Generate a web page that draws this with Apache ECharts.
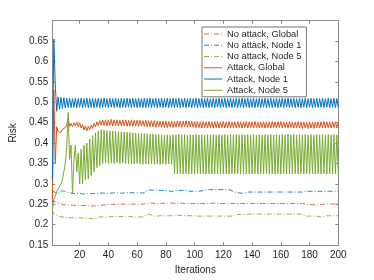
<!DOCTYPE html>
<html>
<head>
<meta charset="utf-8">
<script src="https://cdn.jsdelivr.net/npm/echarts@6.0.0/dist/echarts.min.js"></script>
<style>
html,body{margin:0;padding:0;background:#fff;}
#chart{width:374px;height:280px;}
</style>
</head>
<body>
<div id="chart"></div>
<script>
// ---------- data ----------
var seriesNames = ['No attack, Global', 'No attack, Node 1', 'No attack, Node 5', 'Attack, Global', 'Attack, Node 1', 'Attack, Node 5'];
var xTicks = [20, 40, 60, 80, 100, 120, 140, 160, 180, 200];
var yTicks = [0.15, 0.2, 0.25, 0.3, 0.35, 0.4, 0.45, 0.5, 0.55, 0.6, 0.65];

var noAttackGlobal = [
0.262,0.258,0.256,0.255,0.253,0.252,0.251,0.250,0.249,0.249,
0.248,0.248,0.248,0.247,0.248,0.248,0.247,0.247,0.248,0.248,
0.247,0.247,0.247,0.248,0.247,0.247,0.246,0.246,0.246,0.246,
0.246,0.247,0.247,0.247,0.248,0.248,0.248,0.249,0.249,0.249,
0.249,0.249,0.250,0.250,0.250,0.250,0.250,0.250,0.251,0.250,
0.250,0.251,0.251,0.250,0.250,0.251,0.251,0.251,0.250,0.251,
0.251,0.251,0.250,0.251,0.251,0.251,0.252,0.253,0.253,0.253,
0.253,0.253,0.252,0.253,0.253,0.253,0.252,0.253,0.253,0.253,
0.253,0.252,0.253,0.253,0.253,0.253,0.252,0.252,0.253,0.253,
0.253,0.252,0.252,0.252,0.252,0.252,0.252,0.252,0.252,0.252,
0.252,0.252,0.252,0.252,0.252,0.252,0.252,0.252,0.252,0.252,
0.252,0.252,0.253,0.253,0.253,0.252,0.252,0.252,0.252,0.252,
0.252,0.252,0.252,0.252,0.252,0.252,0.252,0.252,0.252,0.252,
0.252,0.252,0.252,0.252,0.252,0.252,0.252,0.252,0.252,0.252,
0.252,0.252,0.252,0.252,0.252,0.252,0.252,0.252,0.252,0.252,
0.252,0.252,0.252,0.252,0.252,0.252,0.252,0.252,0.252,0.252,
0.252,0.252,0.252,0.252,0.252,0.252,0.252,0.252,0.252,0.252,
0.252,0.252,0.252,0.252,0.252,0.251,0.250,0.249,0.249,0.249,
0.249,0.249,0.249,0.248,0.248,0.249,0.249,0.249,0.250,0.250,
0.251,0.251,0.251,0.251,0.251,0.251,0.251,0.251,0.251,0.251
];

var noAttackNode1 = [
0.284,0.282,0.279,0.276,0.276,0.277,0.282,0.283,0.283,0.281,
0.280,0.279,0.278,0.277,0.277,0.276,0.276,0.276,0.277,0.276,
0.276,0.276,0.275,0.276,0.276,0.277,0.276,0.276,0.276,0.276,
0.277,0.277,0.277,0.277,0.278,0.278,0.277,0.277,0.277,0.277,
0.277,0.278,0.278,0.278,0.278,0.278,0.278,0.277,0.277,0.278,
0.278,0.278,0.278,0.278,0.279,0.278,0.278,0.278,0.278,0.278,
0.278,0.278,0.278,0.278,0.278,0.279,0.284,0.285,0.285,0.285,
0.285,0.285,0.285,0.285,0.284,0.284,0.284,0.284,0.284,0.284,
0.284,0.283,0.282,0.280,0.282,0.283,0.284,0.284,0.284,0.284,
0.284,0.284,0.284,0.283,0.283,0.282,0.282,0.282,0.282,0.282,
0.282,0.282,0.282,0.282,0.283,0.284,0.285,0.286,0.286,0.286,
0.286,0.286,0.286,0.286,0.286,0.286,0.286,0.286,0.286,0.286,
0.286,0.286,0.286,0.286,0.285,0.284,0.281,0.280,0.279,0.279,
0.278,0.278,0.277,0.277,0.278,0.279,0.280,0.280,0.280,0.280,
0.280,0.280,0.280,0.280,0.280,0.280,0.280,0.280,0.280,0.280,
0.280,0.280,0.280,0.280,0.280,0.280,0.280,0.280,0.280,0.280,
0.280,0.280,0.280,0.280,0.280,0.280,0.280,0.280,0.280,0.280,
0.280,0.280,0.280,0.280,0.280,0.281,0.282,0.282,0.282,0.282,
0.282,0.282,0.282,0.282,0.282,0.282,0.282,0.282,0.282,0.282,
0.282,0.282,0.282,0.282,0.282,0.282,0.282,0.282,0.282,0.282
];

var noAttackNode5 = [
0.236,0.226,0.224,0.223,0.221,0.220,0.220,0.219,0.219,0.218,
0.218,0.217,0.217,0.217,0.218,0.217,0.216,0.216,0.216,0.217,
0.217,0.216,0.216,0.216,0.216,0.216,0.216,0.215,0.214,0.214,
0.215,0.217,0.218,0.219,0.219,0.219,0.219,0.219,0.219,0.219,
0.219,0.220,0.220,0.220,0.220,0.220,0.220,0.220,0.221,0.220,
0.220,0.221,0.220,0.220,0.220,0.220,0.220,0.219,0.219,0.219,
0.219,0.219,0.219,0.219,0.220,0.223,0.225,0.226,0.225,0.224,
0.222,0.221,0.221,0.221,0.222,0.222,0.222,0.222,0.222,0.222,
0.222,0.222,0.223,0.222,0.222,0.222,0.222,0.222,0.222,0.223,
0.223,0.222,0.222,0.222,0.222,0.222,0.222,0.222,0.222,0.222,
0.222,0.221,0.221,0.221,0.221,0.221,0.221,0.221,0.221,0.221,
0.221,0.221,0.221,0.221,0.221,0.221,0.221,0.221,0.221,0.221,
0.221,0.221,0.221,0.221,0.221,0.221,0.221,0.222,0.224,0.225,
0.225,0.225,0.226,0.225,0.225,0.225,0.226,0.226,0.226,0.226,
0.226,0.226,0.226,0.226,0.226,0.226,0.226,0.226,0.226,0.226,
0.226,0.226,0.226,0.226,0.226,0.226,0.226,0.226,0.226,0.226,
0.226,0.226,0.226,0.226,0.226,0.226,0.226,0.226,0.226,0.226,
0.226,0.226,0.226,0.226,0.226,0.223,0.221,0.221,0.221,0.221,
0.221,0.221,0.221,0.221,0.220,0.220,0.219,0.219,0.219,0.220,
0.221,0.222,0.222,0.222,0.222,0.222,0.222,0.222,0.222,0.222
];

var attackGlobal = [
0.255,0.530,0.350,0.440,0.428,0.432,0.426,0.434,0.430,0.438,
0.445,0.462,0.441,0.448,0.440,0.450,0.442,0.452,0.440,0.450,
0.437,0.445,0.432,0.442,0.430,0.441,0.433,0.444,0.436,0.448,
0.440,0.452,0.443,0.455,0.444,0.457,0.443,0.457,0.442,0.457,
0.443,0.458,0.442,0.457,0.443,0.457,0.442,0.456,0.443,0.457,
0.442,0.457,0.441,0.456,0.442,0.457,0.441,0.456,0.442,0.456,
0.441,0.456,0.442,0.455,0.441,0.456,0.440,0.455,0.441,0.455,
0.440,0.455,0.439,0.454,0.440,0.454,0.439,0.453,0.438,0.454,
0.438,0.453,0.439,0.454,0.438,0.453,0.439,0.454,0.440,0.454,
0.439,0.454,0.440,0.455,0.439,0.454,0.440,0.454,0.439,0.453,
0.438,0.453,0.438,0.452,0.437,0.453,0.438,0.452,0.437,0.453,
0.438,0.452,0.437,0.453,0.438,0.453,0.437,0.452,0.438,0.453,
0.437,0.452,0.438,0.453,0.437,0.452,0.438,0.452,0.437,0.453,
0.438,0.452,0.437,0.452,0.438,0.453,0.437,0.452,0.438,0.452,
0.437,0.453,0.438,0.452,0.437,0.452,0.438,0.453,0.437,0.452,
0.438,0.452,0.437,0.453,0.438,0.452,0.437,0.452,0.438,0.453,
0.437,0.452,0.438,0.452,0.437,0.453,0.438,0.452,0.437,0.452,
0.438,0.453,0.437,0.452,0.436,0.452,0.437,0.451,0.436,0.452,
0.437,0.451,0.436,0.452,0.437,0.452,0.437,0.452,0.438,0.453,
0.437,0.452,0.438,0.452,0.437,0.453,0.438,0.452,0.437,0.452
];

var attackNode1 = [
0.310,0.655,0.545,0.478,0.513,0.483,0.512,0.485,0.511,0.486,
0.510,0.487,0.510,0.487,0.509,0.488,0.510,0.487,0.509,0.488,
0.510,0.487,0.509,0.488,0.510,0.487,0.509,0.488,0.510,0.487,
0.509,0.488,0.510,0.487,0.509,0.488,0.510,0.488,0.509,0.487,
0.510,0.488,0.509,0.487,0.510,0.488,0.509,0.487,0.510,0.488,
0.509,0.487,0.510,0.488,0.509,0.487,0.510,0.488,0.509,0.487,
0.510,0.488,0.509,0.487,0.510,0.487,0.509,0.488,0.510,0.487,
0.509,0.488,0.510,0.487,0.509,0.488,0.510,0.487,0.509,0.488,
0.510,0.487,0.509,0.488,0.510,0.487,0.509,0.488,0.510,0.487,
0.509,0.488,0.510,0.487,0.509,0.488,0.510,0.487,0.509,0.488,
0.510,0.487,0.509,0.488,0.510,0.487,0.509,0.488,0.510,0.487,
0.509,0.488,0.510,0.487,0.509,0.488,0.510,0.487,0.509,0.488,
0.510,0.487,0.509,0.488,0.510,0.487,0.509,0.488,0.510,0.487,
0.509,0.488,0.510,0.487,0.509,0.488,0.510,0.487,0.509,0.488,
0.510,0.487,0.509,0.488,0.510,0.487,0.509,0.488,0.510,0.487,
0.509,0.488,0.510,0.487,0.509,0.488,0.510,0.487,0.509,0.488,
0.510,0.487,0.509,0.488,0.510,0.487,0.509,0.488,0.510,0.487,
0.509,0.488,0.510,0.487,0.509,0.488,0.510,0.487,0.509,0.488,
0.510,0.487,0.509,0.488,0.510,0.487,0.509,0.488,0.510,0.487,
0.509,0.488,0.510,0.487,0.509,0.488,0.510,0.487,0.509,0.488
];

var attackNode5 = [
0.236,0.262,0.270,0.280,0.288,0.290,0.300,0.310,0.330,0.350,
0.390,0.475,0.360,0.395,0.275,0.355,0.395,0.330,0.375,0.300,
0.385,0.300,0.395,0.310,0.400,0.312,0.410,0.320,0.418,0.330,
0.425,0.340,0.430,0.345,0.433,0.350,0.432,0.352,0.431,0.350,
0.430,0.351,0.430,0.350,0.429,0.352,0.428,0.350,0.428,0.351,
0.427,0.350,0.427,0.349,0.426,0.350,0.425,0.349,0.425,0.350,
0.424,0.349,0.424,0.348,0.423,0.349,0.423,0.348,0.422,0.349,
0.422,0.348,0.421,0.349,0.421,0.348,0.420,0.349,0.420,0.348,
0.420,0.349,0.419,0.348,0.420,0.325,0.420,0.324,0.421,0.325,
0.420,0.324,0.421,0.325,0.420,0.324,0.421,0.325,0.420,0.324,
0.421,0.325,0.420,0.324,0.421,0.325,0.420,0.324,0.421,0.325,
0.420,0.324,0.421,0.325,0.420,0.324,0.421,0.325,0.420,0.324,
0.421,0.325,0.420,0.324,0.421,0.325,0.420,0.324,0.421,0.325,
0.420,0.324,0.421,0.325,0.420,0.324,0.421,0.325,0.420,0.324,
0.421,0.325,0.420,0.324,0.421,0.325,0.420,0.324,0.421,0.325,
0.420,0.324,0.421,0.325,0.420,0.324,0.421,0.325,0.420,0.324,
0.421,0.325,0.420,0.324,0.421,0.325,0.420,0.324,0.421,0.325,
0.420,0.324,0.421,0.325,0.420,0.324,0.421,0.325,0.420,0.324,
0.421,0.325,0.420,0.324,0.421,0.325,0.420,0.324,0.421,0.325,
0.420,0.324,0.421,0.325,0.420,0.324,0.421,0.325,0.420,0.324
];

// ---------- chart ----------
var FONT = "'Liberation Sans', Arial, Helvetica, sans-serif";
var AXIS_COLOR = '#8a8a8a';
var TEXT_COLOR = '#262626';
var colors = ['#D95319', '#0072BD', '#77AC30', '#D95319', '#0072BD', '#77AC30'];
var dashDot = [5, 2, 1, 2];
var allData = [noAttackGlobal, noAttackNode1, noAttackNode5, attackGlobal, attackNode1, attackNode5];

function pairs(arr) { return arr.map(function (v, i) { return [i + 1, v]; }); }

var series = allData.map(function (arr, k) {
  return {
    name: seriesNames[k],
    type: 'line',
    data: pairs(arr),
    symbol: 'none',
    showSymbol: false,
    silent: true,
    z: k < 3 ? 2 : 3,
    lineStyle: { color: colors[k], width: 1, type: k < 3 ? dashDot : 'solid', opacity: k < 3 ? 0.85 : 1 },
    itemStyle: { color: colors[k] }
  };
});

function xAx(pos, labels) {
  return {
    type: 'value', position: pos, min: 1, max: 200,
    axisLine: { show: true, onZero: false, lineStyle: { color: AXIS_COLOR, width: 1 } },
    axisTick: { show: true, inside: true, length: 3, customValues: xTicks, lineStyle: { color: AXIS_COLOR } },
    axisLabel: { show: labels, customValues: xTicks, color: TEXT_COLOR, fontSize: 10, fontFamily: FONT, margin: 5 },
    splitLine: { show: false },
    name: labels ? 'Iterations' : '', nameLocation: 'middle', nameGap: 19,
    nameTextStyle: { color: TEXT_COLOR, fontSize: 10, fontFamily: FONT }
  };
}
function yAx(pos, labels) {
  return {
    type: 'value', position: pos, min: 0.15, max: 0.7,
    axisLine: { show: true, onZero: false, lineStyle: { color: AXIS_COLOR, width: 1 } },
    axisTick: { show: true, inside: true, length: 3, customValues: yTicks, lineStyle: { color: AXIS_COLOR } },
    axisLabel: { show: labels, customValues: yTicks, color: TEXT_COLOR, fontSize: 10, fontFamily: FONT, margin: 4 },
    splitLine: { show: false },
    name: labels ? 'Risk' : '', nameLocation: 'middle', nameGap: 24, nameRotate: 90,
    nameTextStyle: { color: TEXT_COLOR, fontSize: 10, fontFamily: FONT }
  };
}

var chart = echarts.init(document.getElementById('chart'), null, { renderer: 'canvas' });
chart.setOption({
  animation: false,
  backgroundColor: '#fff',
  grid: { left: 48.5, right: 35.7, top: 20.7, bottom: 31, containLabel: false },
  xAxis: [xAx('bottom', true), xAx('top', false)],
  yAxis: [yAx('left', true), yAx('right', false)],
  legend: {
    orient: 'vertical', left: 202, top: 27,
    data: seriesNames,
    padding: [1.5, 5, 1, 1.5],
    itemWidth: 18, itemHeight: 10, itemGap: 0.26,
    itemStyle: { opacity: 0 },
    lineStyle: { width: 1 },
    borderColor: '#777', borderWidth: 1, backgroundColor: '#fff',
    textStyle: { color: TEXT_COLOR, fontSize: 9.3, fontFamily: FONT, lineHeight: 11 },
    selectedMode: false
  },
  series: series
});
</script>
</body>
</html>
